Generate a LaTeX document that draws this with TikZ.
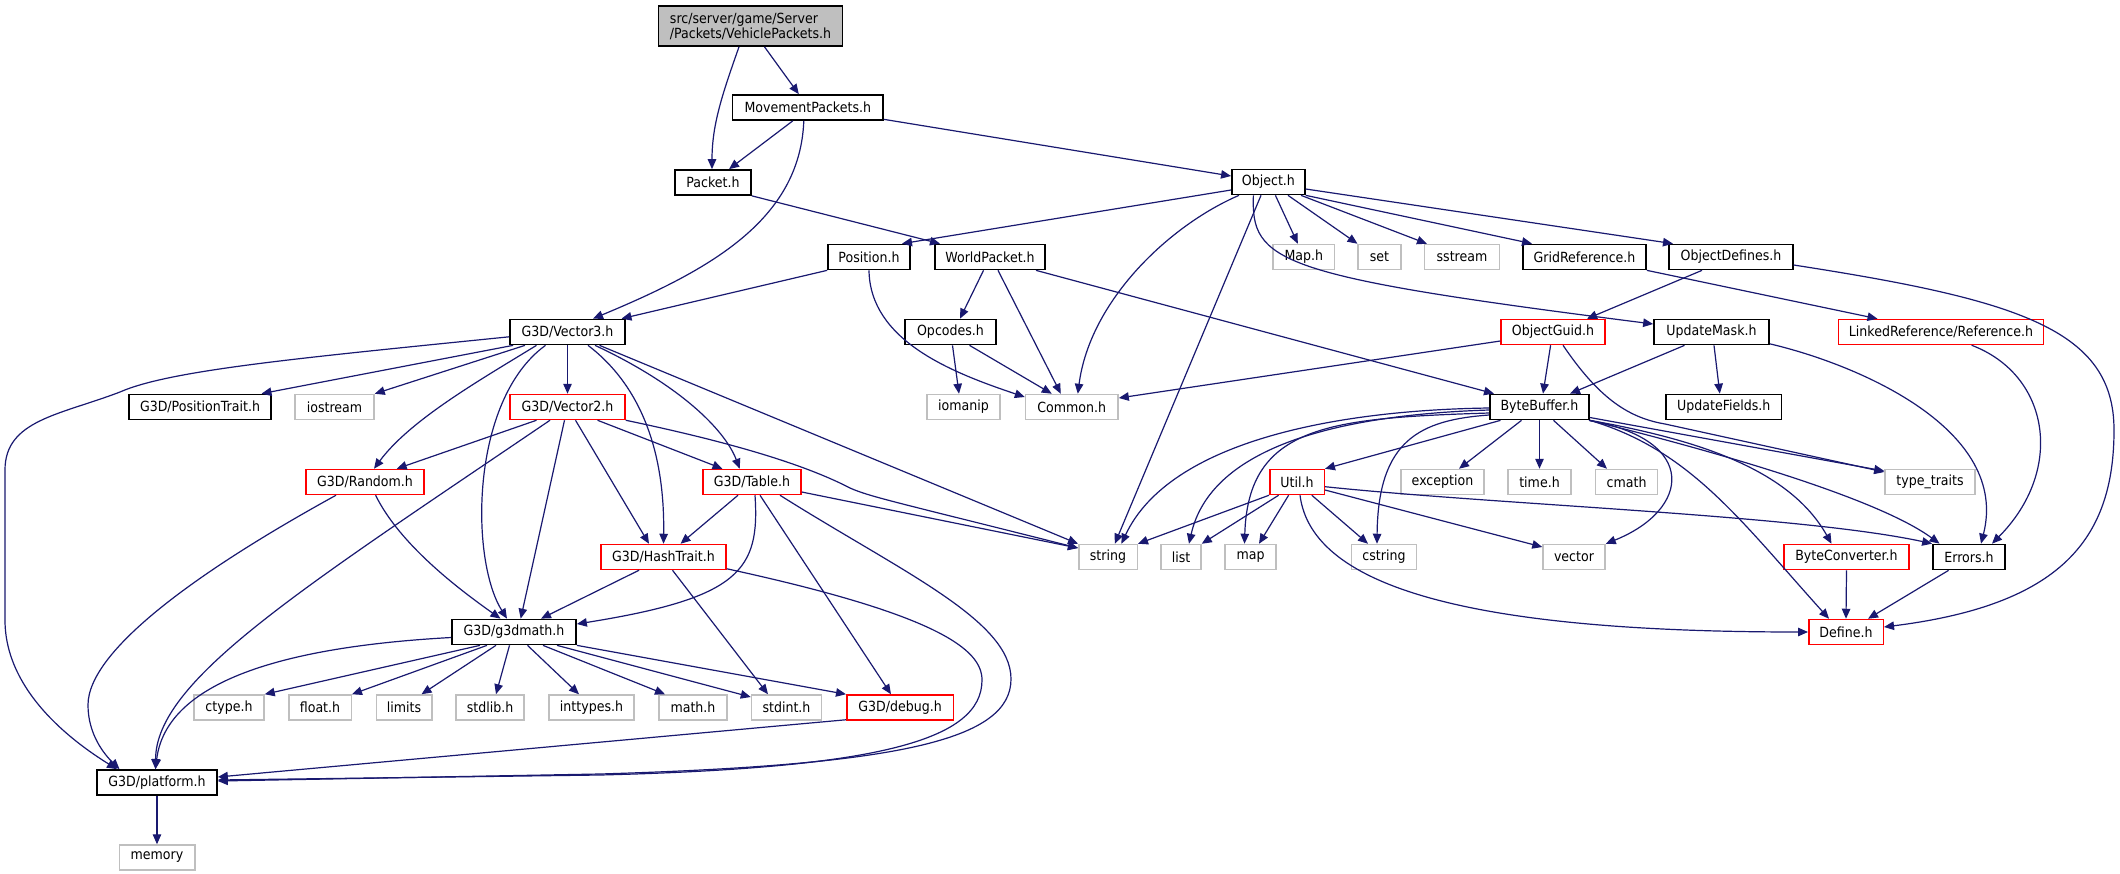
\documentclass[tikz,border=0pt]{standalone}
\usepackage{fontspec}
\setmainfont{DejaVu Sans}[FakeStretch=0.9]
\usetikzlibrary{arrows.meta}
\definecolor{navy}{HTML}{191970}
\definecolor{gborder}{HTML}{BFBFBF}
\definecolor{rborder}{HTML}{FF0000}
\newcommand\nodefont{\fontsize{14}{15}\selectfont}
\tikzset{
  base/.style={rectangle, minimum height=25pt, inner sep=0pt, line width=1.5pt, font=\nodefont, text=black, fill=white},
  blkbox/.style={base, draw=black, line width=1.7pt},
  redbox/.style={base, draw=rborder},
  graybox/.style={base, draw=gborder},
  dep/.style={draw=navy, line width=1.2pt, -{Triangle[length=10pt,width=8.5pt]}}
}
\begin{document}
\begin{tikzpicture}[x=1pt,y=-1pt]
\fill[white] (0,0) rectangle (2120,873);
\useasboundingbox (0,0) rectangle (2120,873);
% row 0-2
\node[blkbox, fill=gborder, minimum width=184pt, minimum height=40pt, align=left] (top) at (750.5,26) {src/server/game/Server\\/Packets/VehiclePackets.h};
\node[blkbox, minimum width=150.5pt] (move) at (807.8,107.5) {MovementPackets.h};
\node[blkbox, minimum width=76pt] (packet) at (713,182.5) {Packet.h};
\node[blkbox, minimum width=73pt] (object) at (1268.4,182) {Object.h};
% row 3
\node[blkbox, minimum width=82pt] (position) at (869,257) {Position.h};
\node[blkbox, minimum width=110pt] (worldpacket) at (990,257) {WorldPacket.h};
\node[graybox, minimum width=61.5pt] (maph) at (1303.8,257) {Map.h};
\node[graybox, minimum width=43pt] (set) at (1379.5,257) {set};
\node[graybox, minimum width=75pt] (sstream) at (1462,257) {sstream};
\node[blkbox, minimum width=123pt] (gridref) at (1584.5,257) {GridReference.h};
\node[blkbox, minimum width=123.5pt] (objdef) at (1731,257) {ObjectDefines.h};
% row 4
\node[blkbox, minimum width=115pt] (vthree) at (567.5,332) {G3D/Vector3.h};
\node[blkbox, minimum width=91pt] (opcodes) at (950.5,332) {Opcodes.h};
\node[redbox, minimum width=104pt] (objguid) at (1553,332) {ObjectGuid.h};
\node[blkbox, minimum width=115pt] (updmask) at (1711.5,332) {UpdateMask.h};
\node[redbox, minimum width=205pt] (linkref) at (1941,332) {LinkedReference/Reference.h};
% row 5
\node[blkbox, minimum width=142.5pt] (postrait) at (200,407) {G3D/PositionTrait.h};
\node[graybox, minimum width=79pt] (iostream) at (334.5,407) {iostream};
\node[redbox, minimum width=115pt] (vtwo) at (567.5,407) {G3D/Vector2.h};
\node[graybox, minimum width=73pt] (iomanip) at (963.5,407) {iomanip};
\node[graybox, minimum width=92.5pt] (common) at (1071.8,407) {Common.h};
\node[blkbox, minimum width=99pt] (bytebuf) at (1539.5,407) {ByteBuffer.h};
\node[blkbox, minimum width=115.5pt] (updfields) at (1723.8,407) {UpdateFields.h};
% row 6
\node[redbox, minimum width=118pt] (random) at (365,482) {G3D/Random.h};
\node[redbox, minimum width=98pt] (table) at (752,482) {G3D/Table.h};
\node[redbox, minimum width=54.5pt] (util) at (1297,482) {Util.h};
\node[graybox, minimum width=83pt] (exception) at (1442.5,482) {exception};
\node[graybox, minimum width=63pt] (timeh) at (1539.5,482) {time.h};
\node[graybox, minimum width=62pt] (cmath) at (1626.6,482) {cmath};
\node[graybox, minimum width=90pt] (typetraits) at (1930,482) {type\_traits};
% row 7
\node[redbox, minimum width=125pt] (hashtrait) at (663.5,557) {G3D/HashTrait.h};
\node[graybox, minimum width=58.5pt] (string) at (1108,557) {string};
\node[graybox, minimum width=40pt] (list) at (1181,557) {list};
\node[graybox, minimum width=51pt] (map) at (1250.5,557) {map};
\node[graybox, minimum width=65pt] (cstring) at (1384,557) {cstring};
\node[graybox, minimum width=62pt] (vector) at (1574,557) {vector};
\node[redbox, minimum width=125pt] (byteconv) at (1846.5,557) {ByteConverter.h};
\node[blkbox, minimum width=72pt] (errors) at (1969,557) {Errors.h};
% row 8
\node[blkbox, minimum width=124pt] (g3dmath) at (514,632) {G3D/g3dmath.h};
\node[redbox, minimum width=74.5pt] (define) at (1846,632) {Define.h};
% row 9
\node[graybox, minimum width=70pt] (ctype) at (229,707.5) {ctype.h};
\node[graybox, minimum width=62.5pt] (float) at (320,707.5) {float.h};
\node[graybox, minimum width=55.5pt] (limits) at (404,707.5) {limits};
\node[graybox, minimum width=68pt] (stdlib) at (490,707.5) {stdlib.h};
\node[graybox, minimum width=85pt] (inttypes) at (591.5,707.5) {inttypes.h};
\node[graybox, minimum width=68pt] (math) at (693,707.5) {math.h};
\node[graybox, minimum width=70pt] (stdint) at (786.5,707.5) {stdint.h};
\node[redbox, minimum width=106.5pt] (debug) at (900,707.5) {G3D/debug.h};
% row 10-11
\node[blkbox, minimum width=120pt] (platform) at (157,782.5) {G3D/platform.h};
\node[graybox, minimum width=75.5pt] (memory) at (157,857.5) {memory};

% ---- edges: upper part
\draw[dep] ([xshift=-11.5pt]top.south) .. controls (722,95) and (712,125) .. ([xshift=-1pt]packet.north);
\draw[dep] ([xshift=14pt]top.south) -- ([xshift=-9pt]move.north);
\draw[dep] ([xshift=-15pt]move.south) -- ([xshift=16pt]packet.north);
\draw[dep] ([xshift=-4pt]move.south) .. controls (800,220) and (710,270) .. ([xshift=25.5pt]vthree.north);
\draw[dep] ([yshift=1.5pt]move.south east) -- ([yshift=6pt]object.west);
\draw[dep] (packet.south east) -- ([xshift=-50pt]worldpacket.north);
\draw[dep] ([yshift=-8pt]object.west) -- ([xshift=33pt]position.north);
\draw[dep] ([xshift=-29.4pt]object.south) .. controls (1170,225) and (1090,300) .. ([xshift=6pt]common.north);
\draw[dep] ([xshift=-7.4pt]object.south) -- ([xshift=6.8pt]string.north);
\draw[dep] ([xshift=7pt]object.south) -- ([xshift=-6pt]maph.north);
\draw[dep] ([xshift=19.6pt]object.south) -- ([xshift=-22pt]set.north);
\draw[dep] ([xshift=32.6pt]object.south) -- ([xshift=-35pt]sstream.north);
\draw[dep] (object.south east) -- ([xshift=-52.5pt]gridref.north);
\draw[dep] ([yshift=-7pt]object.east) -- ([xshift=-58pt]objdef.north);
\draw[dep] ([xshift=-15pt]object.south) .. controls (1251,262) and (1275,276) .. ([yshift=8pt]updmask.west);
\draw[dep] (position.south west) -- ([xshift=54pt]vthree.north);
\draw[dep] (position.south) .. controls (870,340) and (950,372) .. ([yshift=10pt]common.west);
\draw[dep] ([xshift=-6.5pt]worldpacket.south) -- ([xshift=9.5pt]opcodes.north);
\draw[dep] ([xshift=8pt]worldpacket.south) -- ([xshift=-11pt]common.north);
\draw[dep] ([xshift=46pt]worldpacket.south) -- ([xshift=-45.5pt]bytebuf.north);
\draw[dep] ([xshift=2pt]opcodes.south) -- ([xshift=-4.5pt]iomanip.north);
\draw[dep] ([xshift=19pt]opcodes.south) -- ([xshift=-20pt]common.north);
\draw[dep] (gridref.south east) -- ([xshift=-63.5pt]linkref.north);
\draw[dep] ([xshift=-29pt]objdef.south) -- ([xshift=34pt]objguid.north);
\draw[dep] ([yshift=-8pt]objdef.east) .. controls (2020,300) and (2114,330) .. (2114,430) .. controls (2114,540) and (2060,605) .. ([yshift=5pt]define.east);
\draw[dep] ([yshift=-9pt]objguid.west) -- ([yshift=9pt]common.east);
\draw[dep] ([xshift=-2.4pt]objguid.south) -- ([xshift=3.5pt]bytebuf.north);
\draw[dep] ([xshift=10pt]objguid.south) .. controls (1600,400) and (1630,418) .. (1665,424) -- ([yshift=10pt]typetraits.west);
\draw[dep] ([xshift=-27pt]updmask.south) -- ([xshift=30.5pt]bytebuf.north);
\draw[dep] ([xshift=2.5pt]updmask.south) -- ([xshift=-4pt]updfields.north);
\draw[dep] ([yshift=1.5pt]updmask.south east) .. controls (1860,365) and (2010,430) .. ([xshift=12pt]errors.north);
\draw[dep] ([xshift=30.6pt]linkref.south) .. controls (2050,375) and (2065,470) .. ([xshift=23pt]errors.north);

% ---- ByteBuffer
\draw[dep] ([xshift=-39pt]bytebuf.south) -- (util.north east);
\draw[dep] ([xshift=-18pt]bytebuf.south) -- ([xshift=16.5pt]exception.north);
\draw[dep] (bytebuf.south) -- (timeh.north);
\draw[dep] ([xshift=14pt]bytebuf.south) -- ([xshift=-19.6pt]cmath.north);
\draw[dep] ([yshift=-1pt]bytebuf.west) .. controls (1340,410) and (1170,440) .. ([xshift=13.4pt]string.north);
\draw[dep] ([yshift=-3pt]bytebuf.west) .. controls (1330,415) and (1210,450) .. ([xshift=8pt]list.north);
\draw[dep] ([yshift=-6pt]bytebuf.west) .. controls (1330,418) and (1248,425) .. ([xshift=-6pt]map.north);
\draw[dep] ([yshift=-8pt]bytebuf.west) .. controls (1420,420) and (1378,440) .. ([xshift=-7pt]cstring.north);
\draw[dep] ([xshift=-1pt]bytebuf.south east) .. controls (1700,440) and (1690,510) .. (vector.north east);
\draw[dep] ([yshift=-10.5pt]bytebuf.east) -- ([yshift=11pt]typetraits.west);
\draw[dep] (bytebuf.south east) .. controls (1730,455) and (1880,500) .. ([xshift=-29.5pt]errors.north);
\draw[dep] (bytebuf.south east) .. controls (1700,440) and (1790,470) .. ([xshift=-15pt]byteconv.north);
\draw[dep] (bytebuf.south east) .. controls (1690,450) and (1740,520) .. ([xshift=-17pt]define.north);

% ---- Util
\draw[dep] (util.south west) -- (string.north east);
\draw[dep] ([xshift=-18.4pt]util.south) -- (list.north east);
\draw[dep] ([xshift=-8.4pt]util.south) -- ([xshift=8.5pt]map.north);
\draw[dep] ([xshift=14.8pt]util.south) -- ([xshift=-16pt]cstring.north);
\draw[dep] ([yshift=-8pt]util.east) -- ([yshift=10pt]vector.west);
\draw[dep] ([yshift=-4.7pt]util.east) .. controls (1500,505) and (1800,515) .. (errors.north west);
\draw[dep] ([xshift=3pt]util.south) .. controls (1312,590) and (1480,632) .. (define.west);
\draw[dep] (byteconv.south) -- (define.north);
\draw[dep] ([xshift=-20.4pt]errors.south) -- ([xshift=22pt]define.north);

% ---- G3D
\draw[dep] ([yshift=-4.8pt]vthree.west) .. controls (300,358) and (170,370) .. (120,392) .. controls (60,415) and (5,420) .. (5,470) -- (5,620) .. controls (5,690) and (70,740) .. ([xshift=-40pt]platform.north);
\draw[dep] ([xshift=4pt]vthree.south west) -- ([xshift=61.5pt]postrait.north);
\draw[dep] ([xshift=-42.5pt]vthree.south) -- (iostream.north east);
\draw[dep] ([xshift=-31pt]vthree.south) .. controls (480,380) and (410,420) .. ([xshift=9pt]random.north);
\draw[dep] ([xshift=-22pt]vthree.south) .. controls (470,400) and (470,560) .. ([xshift=-7pt]g3dmath.north);
\draw[dep] (vthree.south) -- (vtwo.north);
\draw[dep] ([xshift=20.5pt]vthree.south) .. controls (640,385) and (665,450) .. (hashtrait.north);
\draw[dep] ([xshift=27.5pt]vthree.south) .. controls (680,385) and (725,430) .. ([xshift=-12.3pt]table.north);
\draw[dep] ([xshift=32pt]vthree.south) -- (string.north west);

\draw[dep] ([xshift=-31pt]vtwo.south) -- ([xshift=31.7pt]random.north);
\draw[dep] ([xshift=-17.5pt]vtwo.south) .. controls (300,590) and (156,680) .. ([xshift=-1.5pt]platform.north);
\draw[dep] ([xshift=-3pt]vtwo.south) -- ([xshift=6.7pt]g3dmath.north);
\draw[dep] ([xshift=8pt]vtwo.south) -- ([xshift=-14.5pt]hashtrait.north);
\draw[dep] ([xshift=30pt]vtwo.south) -- ([xshift=-29.5pt]table.north);
\draw[dep] (vtwo.south east) .. controls (720,440) and (800,462) .. (850,488) .. controls (870,497) and (900,503) .. ([yshift=9pt]string.west);

\draw[dep] ([xshift=-29pt]random.south) .. controls (200,570) and (88,650) .. (88,705) .. controls (88,735) and (105,755) .. ([xshift=-37.5pt]platform.north);
\draw[dep] ([xshift=10.6pt]random.south) .. controls (400,545) and (460,590) .. ([xshift=-13.5pt]g3dmath.north);

\draw[dep] ([xshift=-14pt]table.south) -- ([xshift=17pt]hashtrait.north);
\draw[dep] ([xshift=3pt]table.south) .. controls (760,570) and (740,598) .. ([yshift=8pt]g3dmath.east);
\draw[dep] ([xshift=8pt]table.south) -- ([xshift=-9pt]debug.north);
\draw[dep] ([xshift=28pt]table.south) .. controls (900,571) and (1011,620) .. (1011,679) .. controls (1011,740) and (900,765) .. (600,774) -- ([yshift=1.5pt]platform.east);
\draw[dep] ([yshift=-10pt]table.east) -- ([yshift=9pt]string.west);

\draw[dep] ([xshift=-24.5pt]hashtrait.south) -- ([xshift=27pt]g3dmath.north);
\draw[dep] ([xshift=9pt]hashtrait.south) -- ([xshift=-18.5pt]stdint.north);
\draw[dep] ([yshift=1.5pt]hashtrait.south east) .. controls (940,615) and (982,650) .. (982,680) .. controls (982,740) and (880,768) .. (600,775) -- ([yshift=2.5pt]platform.east);

\draw[dep] ([yshift=-5.5pt]g3dmath.west) .. controls (260,648) and (165,690) .. ([xshift=-1.5pt]platform.north);
\draw[dep] ([xshift=-34pt]g3dmath.south) -- (ctype.north east);
\draw[dep] ([xshift=-27pt]g3dmath.south) -- (float.north east);
\draw[dep] ([xshift=-18pt]g3dmath.south) -- ([xshift=17.5pt]limits.north);
\draw[dep] ([xshift=-4.5pt]g3dmath.south) -- ([xshift=6pt]stdlib.north);
\draw[dep] ([xshift=13.5pt]g3dmath.south) -- ([xshift=-12.5pt]inttypes.north);
\draw[dep] ([xshift=29pt]g3dmath.south) -- ([xshift=-28pt]math.north);
\draw[dep] ([xshift=43pt]g3dmath.south) -- ([yshift=10.5pt]stdint.west);
\draw[dep] (g3dmath.south east) -- (debug.north west);
\draw[dep] ([yshift=1pt]debug.south west) -- ([yshift=5.5pt]platform.east);
\draw[dep] (platform.south) -- (memory.north);
\end{tikzpicture}
\end{document}
